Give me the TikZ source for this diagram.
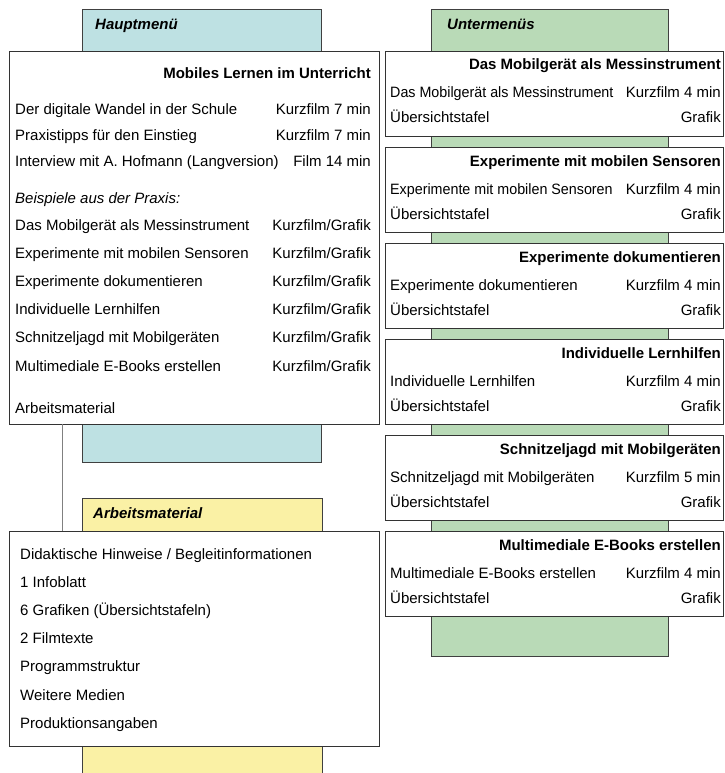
\documentclass[tikz,border=0pt]{standalone}
\usepackage{fontspec}
\setmainfont{Liberation Sans}
\usepackage{graphicx}
\usepackage{tikz}
\usetikzlibrary{positioning,calc}

\definecolor{hauptblau}{RGB}{190,225,227}
\definecolor{untergruen}{RGB}{185,218,183}
\definecolor{arbeitgelb}{RGB}{250,241,165}
\newcommand{\grundschrift}{\fontsize{15}{18}\selectfont}

\tikzset{
  panel/.style={draw=black!75, line width=0.8pt, anchor=north west, inner sep=0pt, outer sep=0pt},
  kasten/.style={draw=black!80, line width=0.8pt, fill=white, anchor=north west, inner sep=0pt, outer sep=0pt},
  verbinder/.style={draw=black!50, line width=0.8pt},
  kopf/.style={anchor=base west, inner sep=0pt, font=\grundschrift\bfseries\itshape},
  titel/.style={anchor=base east, inner sep=0pt, font=\grundschrift\bfseries},
  links/.style={anchor=base west, inner sep=0pt, font=\grundschrift},
  rechts/.style={anchor=base east, inner sep=0pt, font=\grundschrift},
}

\begin{document}
\begin{tikzpicture}[x=1pt,y=-1pt]
\useasboundingbox (0,0) rectangle (724,773);

% farbige Flaechen hinter den Kaesten
\node[panel, fill=hauptblau, minimum width=239, minimum height=453] (blau) at (82,9) {};
\node[panel, fill=untergruen, minimum width=237, minimum height=647] (gruen) at (431,9) {};
\node[panel, fill=arbeitgelb, minimum width=240, minimum height=290] (gelb) at (82,498) {};

\node[kopf] (hkopf) at ($(blau.north west)+(13,21)$) {Hauptmenü};
\node[kopf] (ukopf) at ($(gruen.north west)+(16,21)$) {Untermenüs};
\node[kopf] (akopf) at ($(gelb.north west)+(11,20)$) {Arbeitsmaterial};

% Hauptmenue
\node[kasten, minimum width=370, minimum height=373] (haupt) at (9,51) {};
\node[titel] (htitel) at ($(haupt.north east)+(-8,28)$) {Mobiles Lernen im Unterricht};
\foreach \dy/\thema/\art [count=\i] in {63/Der digitale Wandel in der Schule/Kurzfilm 7 min,
    89/Praxistipps für den Einstieg/Kurzfilm 7 min,
    115/{Interview mit A. Hofmann (Langversion)}/Film 14 min}
{
  \node[links] (hfilm\i) at ($(haupt.north west)+(6,\dy)$) {\thema};
  \node[rechts] (hart\i) at ($(haupt.north east)+(-8,\dy)$) {\art};
}
\node[links, font=\grundschrift\itshape] (hbeispiel) at ($(haupt.north west)+(6,152)$) {Beispiele aus der Praxis:};
\foreach \thema [count=\i from 0] in {Das Mobilgerät als Messinstrument, Experimente mit mobilen Sensoren,
    Experimente dokumentieren, Individuelle Lernhilfen, Schnitzeljagd mit Mobilgeräten,
    Multimediale E-Books erstellen}
{
  \node[links] (hpraxis\i) at ($(haupt.north west)+(6,{179+28.2*\i})$) {\thema};
  \node[rechts] (hmedium\i) at ($(haupt.north east)+(-8,{179+28.2*\i})$) {Kurzfilm/Grafik};
}
\node[links] (hmaterial) at ($(haupt.north west)+(6,362)$) {Arbeitsmaterial};

% Arbeitsmaterial
\node[kasten, minimum width=370, minimum height=215] (arbeit) at (9,531) {};
\foreach \eintrag [count=\i from 0] in {Didaktische Hinweise / Begleitinformationen, 1 Infoblatt,
    6 Grafiken (Übersichtstafeln), 2 Filmtexte, Programmstruktur, Weitere Medien, Produktionsangaben}
  \node[links] (material\i) at ($(arbeit.north west)+(11,{28+28.2*\i})$) {\eintrag};

\draw[verbinder] ($(haupt.south west)+(53,0)$) -- ($(arbeit.north west)+(53,0)$);

% Untermenues
\foreach \thema/\dauer/\enger [count=\k from 0] in {Das Mobilgerät als Messinstrument/4/0.953,
    Experimente mit mobilen Sensoren/4/0.953, Experimente dokumentieren/4/1, Individuelle Lernhilfen/4/1,
    Schnitzeljagd mit Mobilgeräten/5/1, Multimediale E-Books erstellen/4/1}
{
  \node[kasten, minimum width=338, minimum height=85] (unter\k) at (385,{51+96*\k}) {};
  \node[titel] (utitel\k) at ($(unter\k.north east)+(-2,19)$) {\thema};
  \node[links] (ufilm\k) at ($(unter\k.north west)+(5,47)$) {\scalebox{\enger}[1]{\thema}};
  \node[rechts] (udauer\k) at ($(unter\k.north east)+(-2,47)$) {Kurzfilm \dauer\ min};
  \node[links] (utafel\k) at ($(unter\k.north west)+(5,72)$) {Übersichtstafel};
  \node[rechts] (ugrafik\k) at ($(unter\k.north east)+(-2,72)$) {Grafik};
}
\end{tikzpicture}
\end{document}
